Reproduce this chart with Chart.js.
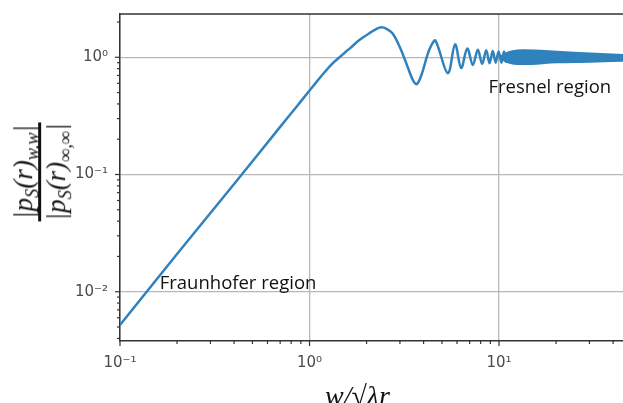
<!DOCTYPE html>
<html>
<head>
<meta charset="utf-8">
<script src="https://cdn.jsdelivr.net/npm/chart.js@4.4.0/dist/chart.umd.min.js"></script>
<style>
  html, body { margin: 0; padding: 0; background: #fff; }
  #wrap { position: relative; width: 623px; height: 403px; overflow: hidden; background: #fff; }
  #plot { position: absolute; left: 0; top: 0; }
  .ylabel {
    position: absolute; left: 40px; top: 172px;
    transform: translate(-50%, -50%) rotate(-90deg);
    font-family: "Liberation Serif", serif; font-style: italic; font-size: 27px;
    color: #111; white-space: nowrap; line-height: 1.05;
  }
  .frac { display: inline-flex; flex-direction: column; align-items: center; }
  .frac .num { border-bottom: 3px solid #111; padding: 0 3px 1px; }
  .frac .den { padding: 1px 3px 0; }
  .frac sub { font-size: 0.68em; vertical-align: -0.3em; line-height: 0; }
  .xlabel {
    position: absolute; left: 325px; top: 382px;
    font-family: "Liberation Serif", serif; font-style: italic; font-size: 28px;
    line-height: 28px; color: #111; white-space: nowrap;
  }
</style>
</head>
<body>
<div id="wrap">
  <canvas id="plot" width="623" height="403"></canvas>
  <div class="ylabel"><span class="frac"><span class="num">|p<sub>S</sub>(r)<sub>w,w</sub>|</span><span class="den">|p<sub>S</sub>(r)<sub>∞,∞</sub>|</span></span></div>
  <div class="xlabel">w/√λr</div>
</div>
<script>
// axis limits
const xMin = 0.1, xMax = 45.1;
const yMin = 0.0038, yMax = 2.34;

// major tick positions and their labels
const xTickValues = [0.1, 1, 10];
const xTickLabels = ['10⁻¹', '10⁰', '10¹'];
const yTickValues = [0.01, 0.1, 1];
const yTickLabels = ['10⁻²', '10⁻¹', '10⁰'];

// main trace (peaks and troughs of the ripples)
const curveX = [0.1, 0.2, 0.4, 0.7, 0.85, 1.0, 1.1, 1.2, 1.32, 1.44, 1.55, 1.65, 1.84, 2.1, 2.25, 2.39, 2.55,
                2.74, 2.99, 3.24, 3.51, 3.68, 3.9, 4.19, 4.4, 4.62, 5.37, 5.86, 6.31, 6.8, 7.27, 7.73, 8.15,
                8.56, 8.91, 9.27, 9.6, 9.95, 10.3, 10.62, 10.93];
const curveY = [0.0052, 0.021, 0.083, 0.255, 0.375, 0.52, 0.629, 0.745, 0.882, 1.0, 1.11, 1.21, 1.41, 1.63, 1.74, 1.8, 1.75,
                1.6, 1.23, 0.89, 0.64, 0.59, 0.71, 1.05, 1.27, 1.39, 0.73, 1.29, 0.81, 1.19, 0.86, 1.16, 0.88,
                1.15, 0.89, 1.13, 0.9, 1.12, 0.9, 1.12, 0.9];

// where the ripples merge into a solid band: upper and lower edges
const bandX  = [10.1, 10.8, 11.8, 13.4, 20.2, 30.2, 45.1];
const bandHi = [1.0, 1.07, 1.12, 1.14, 1.11, 1.07, 1.04];
const bandLo = [1.0, 0.93, 0.89, 0.88, 0.91, 0.92, 0.94];

// text labels inside the plot (left edge, baseline)
const noteText = ['Fraunhofer region', 'Fresnel region'];
const noteX = [0.162, 8.8];
const noteY = [0.0105, 0.5];

const lineColor = '#3082bc';

function toPoints(xs, ys) {
    return xs.map((x, i) => ({ x: x, y: ys[i] }));
}

// 2..9 times each power of ten inside the range
function minorValues(min, max) {
    const out = [];
    for (let e = Math.floor(Math.log10(min)); e <= Math.ceil(Math.log10(max)); e++) {
        for (let k = 2; k <= 9; k++) {
            const v = k * Math.pow(10, e);
            if (v >= min && v <= max) out.push(v);
        }
    }
    return out;
}

function buildTicks(majors, min, max) {
    const t = majors.map(v => ({ value: v, major: true }));
    minorValues(min, max).forEach(v => t.push({ value: v, major: false }));
    t.sort((a, b) => a.value - b.value);
    return t;
}

const decor = {
    id: 'decor',
    afterDraw(chart) {
        const { ctx, chartArea: a, scales: { x, y } } = chart;
        ctx.save();
        ctx.strokeStyle = '#333';
        ctx.lineWidth = 1.5;
        ctx.beginPath();
        ctx.moveTo(a.left, a.top);
        ctx.lineTo(a.right, a.top);
        ctx.stroke();

        ctx.lineWidth = 1.2;
        x.ticks.forEach(t => {
            const px = x.getPixelForValue(t.value);
            ctx.beginPath();
            ctx.moveTo(px, a.bottom);
            ctx.lineTo(px, a.bottom + (t.major ? 5 : 3));
            ctx.stroke();
        });
        y.ticks.forEach(t => {
            const py = y.getPixelForValue(t.value);
            ctx.beginPath();
            ctx.moveTo(a.left, py);
            ctx.lineTo(a.left - (t.major ? 5 : 3), py);
            ctx.stroke();
        });

        ctx.fillStyle = '#111';
        ctx.font = '18.5px "Open Sans"';
        ctx.textAlign = 'left';
        ctx.textBaseline = 'alphabetic';
        noteText.forEach((s, i) => {
            ctx.fillText(s, x.getPixelForValue(noteX[i]), y.getPixelForValue(noteY[i]));
        });
        ctx.restore();
    }
};

const tickFont = { family: 'DejaVu Sans', size: 15 };
const gridColor = c => (c.tick && c.tick.major) ? '#b8b8b8' : 'rgba(0,0,0,0)';

new Chart(document.getElementById('plot').getContext('2d'), {
    type: 'line',
    data: {
        datasets: [
            {
                data: toPoints(bandX, bandHi),
                borderColor: lineColor,
                backgroundColor: lineColor,
                borderWidth: 2.5,
                pointRadius: 0,
                cubicInterpolationMode: 'monotone',
                fill: '+1'
            },
            {
                data: toPoints(bandX, bandLo),
                borderColor: lineColor,
                borderWidth: 2.5,
                pointRadius: 0,
                cubicInterpolationMode: 'monotone',
                fill: false
            },
            {
                data: toPoints(curveX, curveY),
                borderColor: lineColor,
                borderWidth: 2.5,
                pointRadius: 0,
                tension: 0.35,
                fill: false
            }
        ]
    },
    options: {
        responsive: false,
        animation: false,
        devicePixelRatio: 1,
        layout: { padding: { top: 14, right: 0, bottom: 0, left: 0 } },
        plugins: {
            legend: { display: false },
            tooltip: { enabled: false }
        },
        scales: {
            x: {
                type: 'logarithmic',
                min: xMin,
                max: xMax,
                bounds: 'data',
                afterBuildTicks: s => { s.ticks = buildTicks(xTickValues, xMin, xMax); },
                afterFit: s => { s.height = 62; s.paddingLeft = 0; s.paddingRight = 0; },
                grid: { color: gridColor, lineWidth: 1.3, drawTicks: false },
                border: { color: '#333', width: 1.5 },
                ticks: {
                    autoSkip: false,
                    maxRotation: 0,
                    padding: 13,
                    color: '#4a4a4a',
                    font: tickFont,
                    callback: v => {
                        const k = xTickValues.indexOf(v);
                        return k >= 0 ? xTickLabels[k] : '';
                    }
                }
            },
            y: {
                type: 'logarithmic',
                min: yMin,
                max: yMax,
                bounds: 'data',
                afterBuildTicks: s => { s.ticks = buildTicks(yTickValues, yMin, yMax); },
                afterFit: s => { s.width = 120; s.paddingTop = 0; s.paddingBottom = 0; },
                grid: { color: gridColor, lineWidth: 1.3, drawTicks: false },
                border: { color: '#333', width: 1.5 },
                ticks: {
                    autoSkip: false,
                    padding: 12,
                    color: '#4a4a4a',
                    font: tickFont,
                    callback: v => {
                        const k = yTickValues.indexOf(v);
                        return k >= 0 ? yTickLabels[k] : '';
                    }
                }
            }
        }
    },
    plugins: [decor]
});
</script>
</body>
</html>
